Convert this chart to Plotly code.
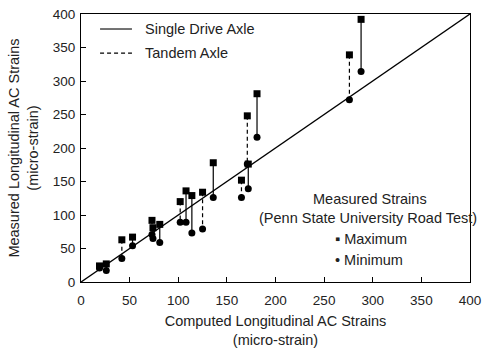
import plotly.graph_objects as go

# Computed strain (x), measured maximum and minimum (y) for each test pair
single_x   = [19, 26, 53, 74, 81, 108, 114, 136, 172, 181, 288]
single_max = [24, 27, 67, 81, 86, 136, 129, 178, 176, 281, 392]
single_min = [21, 17, 54, 65, 59, 89, 73, 126, 139, 216, 314]

tandem_x   = [42, 73, 102, 125, 165, 171, 276]
tandem_max = [63, 92, 120, 134, 152, 248, 339]
tandem_min = [35, 71, 89, 79, 126, 176, 272]

equality = [0, 400]
ticks = [0, 50, 100, 150, 200, 250, 300, 350, 400]

FONT = "Liberation Sans, Arial, sans-serif"
TXT = "#222222"
FS = 14.5


def segs(xs, a, b):
    X, Y = [], []
    for x, p, q in zip(xs, a, b):
        X += [x, x, None]
        Y += [p, q, None]
    return X, Y


fig = go.Figure()

fig.add_trace(go.Scatter(x=equality, y=equality, mode="lines",
                         line=dict(color="black", width=1.4), hoverinfo="skip"))

sx, sy = segs(single_x, single_max, single_min)
fig.add_trace(go.Scatter(x=sx, y=sy, mode="lines", name="Single Drive Axle",
                         line=dict(color="black", width=1.2)))
tx, ty = segs(tandem_x, tandem_max, tandem_min)
fig.add_trace(go.Scatter(x=tx, y=ty, mode="lines", name="Tandem Axle",
                         line=dict(color="black", width=1.2, dash="4px,3px")))

fig.add_trace(go.Scatter(x=single_x + tandem_x, y=single_max + tandem_max,
                         mode="markers", name="Maximum",
                         marker=dict(symbol="square", size=7, color="black")))
fig.add_trace(go.Scatter(x=single_x + tandem_x, y=single_min + tandem_min,
                         mode="markers", name="Minimum",
                         marker=dict(symbol="circle", size=7, color="black")))

axis_common = dict(range=[0, 400], tickvals=ticks, ticks="inside", ticklen=5,
                   tickcolor="black", showline=True, linecolor="black",
                   linewidth=1, mirror=True, showgrid=False, zeroline=False,
                   automargin=False,
                   tickfont=dict(family=FONT, size=13.5, color=TXT))

fig.update_xaxes(**axis_common, ticklabelstandoff=6,
                 title=dict(text="Computed Longitudinal AC Strains<br>(micro-strain)",
                            font=dict(family=FONT, size=FS, color=TXT), standoff=8))
fig.update_yaxes(**axis_common, ticklabelstandoff=2,
                 title=dict(text="Measured Longitudinal AC Strains<br>(micro-strain)",
                            font=dict(family=FONT, size=FS, color=TXT), standoff=10))

fig.update_layout(
    width=485, height=350,
    margin=dict(l=81, r=15, t=14, b=68),
    plot_bgcolor="white", paper_bgcolor="white",
    showlegend=False,
    font=dict(family=FONT, size=FS, color=TXT),
)

# legend keys for the line styles (paper coordinates)
fig.add_shape(type="line", xref="paper", yref="paper", x0=0.049, x1=0.131,
              y0=0.944, y1=0.944, line=dict(color="black", width=1.1))
fig.add_shape(type="line", xref="paper", yref="paper", x0=0.049, x1=0.131,
              y0=0.854, y1=0.854, line=dict(color="black", width=1.1, dash="4px,3px"))

ann = [
    dict(text="Single Drive Axle", x=0.159, y=0.944, xanchor="left"),
    dict(text="Tandem Axle", x=0.159, y=0.854, xanchor="left"),
    dict(text="Measured Strains", x=0.743, y=0.310, xanchor="center"),
    dict(text="(Penn State University Road Test)", x=0.737, y=0.239, xanchor="center"),
    dict(text="▪ Maximum", x=0.648, y=0.160, xanchor="left"),
    dict(text="• Minimum", x=0.648, y=0.082, xanchor="left"),
]
for a in ann:
    fig.add_annotation(xref="paper", yref="paper", yanchor="middle",
                       showarrow=False, font=dict(family=FONT, size=FS, color=TXT),
                       **a)

fig.write_html("out.html")
